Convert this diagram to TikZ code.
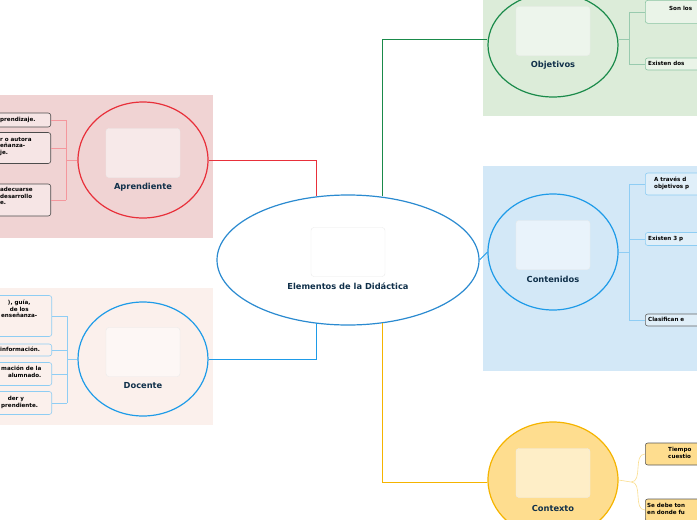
\documentclass[tikz,border=0pt]{standalone}
\usepackage{fontspec}
\setmainfont{DejaVu Sans}
\usetikzlibrary{shapes.geometric}
\definecolor{bgG}{HTML}{DCECD9}
\definecolor{bgR}{HTML}{F0D3D3}
\definecolor{bgD}{HTML}{FBF0EC}
\definecolor{bgB}{HTML}{D3E8F7}
\definecolor{cBlue}{HTML}{2A8AD0}
\definecolor{cGreen}{HTML}{1A8A4A}
\definecolor{cRed}{HTML}{E8303A}
\definecolor{cLBlue}{HTML}{1E9BE8}
\definecolor{cOr}{HTML}{F5B400}
\definecolor{fOr}{HTML}{FEDD8F}
\definecolor{tNavy}{HTML}{10304A}
\begin{document}
\begin{tikzpicture}[x=1pt,y=-1pt,
  inner/.style={draw=black!8,fill=white,fill opacity=0.5,rounded corners=3pt,minimum width=74pt,minimum height=49pt,inner sep=0pt},
  lab/.style={font=\bfseries\fontsize{8.3}{9}\selectfont,text=tNavy},
  sbox/.style={draw,rounded corners=2.5pt,line width=0.6pt,font=\bfseries\fontsize{5.6}{6.6}\selectfont,inner sep=0pt},
  stxt/.style={font=\bfseries\fontsize{5.6}{6.6}\selectfont,inner sep=0pt,anchor=north west,align=left},
  conn/.style={line width=0.9pt}]
\useasboundingbox (0,0) rectangle (697,520);
\clip (0,0) rectangle (697,520);
% backgrounds
\fill[bgG] (483,0) rectangle (697,116);
\fill[bgR] (0,95) rectangle (213,238);
\fill[bgD] (0,288) rectangle (213,425);
\fill[bgB] (483,166) rectangle (697,371);
% central
\node[draw=cBlue, line width=1.2pt, ellipse, minimum width=262pt, minimum height=130pt, inner sep=0pt,fill=white] (c) at (348,260) {};
\node[inner] at (348,252) {};
\node[lab] at (348,286) {Elementos de la Didáctica};
% Objetivos
\node[ellipse,draw=cGreen,line width=1.2pt,fill=bgG,minimum width=130pt,minimum height=104pt,inner sep=0pt] (o) at (553,45) {};
\node[inner] at (553,31) {};
\node[lab] at (553,65) {Objetivos};
% Aprendiente
\node[ellipse,draw=cRed,line width=1.2pt,fill=bgR,minimum width=130pt,minimum height=116pt,inner sep=0pt] (a) at (143,160) {};
\node[inner] at (143,153) {};
\node[lab] at (143,187) {Aprendiente};
% Contenidos
\node[ellipse,draw=cLBlue,line width=1.2pt,fill=bgB,minimum width=130pt,minimum height=116pt,inner sep=0pt] (k) at (553,252) {};
\node[inner] at (553,245) {};
\node[lab] at (553,279) {Contenidos};
% Docente
\node[ellipse,draw=cLBlue,line width=1.2pt,fill=bgD,minimum width=130pt,minimum height=114pt,inner sep=0pt] (d) at (143,359) {};
\node[inner] at (143,352) {};
\node[lab] at (143,386) {Docente};
% Contexto
\node[ellipse,draw=cOr,line width=1.2pt,fill=fOr,minimum width=130pt,minimum height=116pt,inner sep=0pt] (x) at (553,480) {};
\node[inner] at (553,473) {};
\node[lab] at (553,508) {Contexto};
% main connectors
\draw[conn,cGreen] (382,196) |- ([yshift=6pt]o.west);
\draw[conn,cRed] (316,196) |- (a.east);
\draw[conn,cLBlue] (c.east) -- (k.west);
\draw[conn,cLBlue] (316,323) |- (d.east);
\draw[conn,cOr] (382,323) |- ([yshift=-2pt]x.west);
% Objetivos subs
\begin{scope}[sbox/.append style={draw=cGreen!50,fill=bgG!60!white}]
\node[sbox,minimum width=80pt,minimum height=23pt,anchor=north west] (o1) at (645,0) {};
\node[stxt] at (669,6) {Son los};
\node[sbox,minimum width=80pt,minimum height=12pt,anchor=west] (o2) at (645,64) {};
\node[stxt] at (648,61) {Existen dos};
\end{scope}
\draw[cGreen!45,line width=0.6pt] ([yshift=6pt]o.east) -- (629,39) |- (o1.west) (629,39) |- (o2.west);
% Contenidos subs
\begin{scope}[sbox/.append style={draw=cLBlue!50,fill=bgB!70!white}]
\node[sbox,minimum width=80pt,minimum height=22pt,anchor=west] (k1) at (645,184) {};
\node[stxt] at (654,177) {A través d\\objetivos p};
\node[sbox,minimum width=80pt,minimum height=13pt,anchor=west] (k2) at (645,239) {};
\node[stxt] at (648,236) {Existen 3 p};
\node[sbox,draw=gray!80!black,minimum width=80pt,minimum height=12pt,anchor=west] (k3) at (645,320) {};
\node[stxt] at (648,317) {Clasifican e};
\end{scope}
\draw[cLBlue!50,line width=0.6pt] (k.east) -- (629,252) (629,184) |- (k1.west) (629,184) -- (629,320) (629,239) -- (k2.west) (629,320) -- (k3.west);
% Contexto subs
\begin{scope}[sbox/.append style={draw=gray!70!black,fill=fOr}]
\node[sbox,minimum width=80pt,minimum height=22pt,anchor=west] (x1) at (645,454) {};
\node[stxt] at (668,447) {Tiempo\\cuestio};
\node[sbox,minimum width=80pt,minimum height=22pt,anchor=west] (x2) at (645,510) {};
\node[stxt] at (647,503) {Se debe ton\\en donde fu};
\end{scope}
\draw[cOr!45,line width=0.6pt] (x.east) -- (631,482) to[out=0,in=180] (x1.west) (631,482) to[out=0,in=180] (x2.west);
% Aprendiente subs
\begin{scope}[sbox/.append style={draw=gray!60!black,fill=bgR!60!white}]
\node[sbox,minimum width=62pt,minimum height=14pt,anchor=east] (a1) at (51,120) {};
\node[stxt] at (0,117) {prendizaje.};
\node[sbox,minimum width=62pt,minimum height=31pt,anchor=east] (a2) at (51,148) {};
\node[stxt] at (0,137) {r o autora\\eñanza-\\je.};
\node[sbox,minimum width=62pt,minimum height=32pt,anchor=east] (a3) at (51,200) {};
\node[stxt] at (0,187) {adecuarse\\desarrollo\\e.};
\end{scope}
\draw[cRed!50,line width=0.6pt] (a.west) -- (66,160) (66,120) -- (66,200) (66,120) -- (a1.east) (66,148) -- (a2.east) (66,200) -- (a3.east);
% Docente subs
\begin{scope}[sbox/.append style={draw=cLBlue!50,fill=bgD}]
\node[sbox,minimum width=62pt,minimum height=41pt,anchor=east] (d1) at (52,316) {};
\node[stxt,align=center] at (1,300) {), guía,\\de los\\enseñanza-};
\node[sbox,minimum width=62pt,minimum height=12pt,anchor=east] (d2) at (52,350) {};
\node[stxt] at (0,347) {información.};
\node[sbox,minimum width=62pt,minimum height=23pt,anchor=east] (d3) at (52,374) {};
\node[stxt,align=right] at (1,366) {mación de la\\alumnado.};
\node[sbox,minimum width=62pt,minimum height=23pt,anchor=east] (d4) at (52,403) {};
\node[stxt,align=right] at (1,396) {der y\hspace*{14pt}\\prendiente.};
\end{scope}
\draw[cLBlue!50,line width=0.6pt] (d.west) -- (67,359) (67,316) -- (67,403) (67,316) -- (d1.east) (67,350) -- (d2.east) (67,374) -- (d3.east) (67,403) -- (d4.east);
\end{tikzpicture}
\end{document}
